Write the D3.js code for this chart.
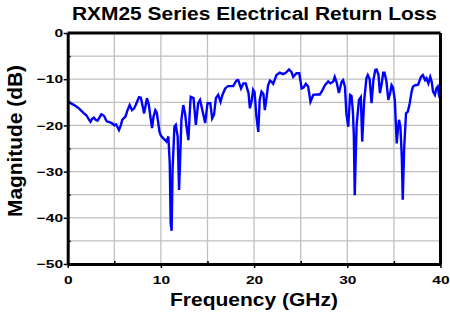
<!DOCTYPE html>
<html>
<head>
<meta charset="utf-8">
<script src="https://cdn.jsdelivr.net/npm/d3@7"></script>
<style>
  body { margin: 0; background: #fff; }
  text { font-family: "Liberation Sans", Arial, sans-serif; font-weight: bold; }
</style>
</head>
<body>
<div class="chart"></div>
<script>
// return loss data
const freqGHz = [
  0.0, 0.15, 0.4, 0.7, 1.0, 1.2, 1.5, 1.75, 2.0, 2.3, 2.45, 2.6, 2.8, 3.0, 3.2, 3.4, 3.6, 3.8, 3.95,
  4.1, 4.25, 4.5, 4.8, 5.0, 5.2, 5.35, 5.5, 5.7, 5.85, 6.0, 6.2, 6.4, 6.65, 6.9, 7.1, 7.3, 7.5, 7.65,
  7.85, 8.0, 8.2, 8.35, 8.5, 8.7, 8.9, 9.05, 9.2, 9.4, 9.55, 9.7, 9.85, 10.0, 10.25, 10.45, 10.6, 10.8,
  10.95, 11.05, 11.15, 11.25, 11.45, 11.6, 11.8, 11.95, 12.05, 12.2, 12.4, 12.6, 12.75, 12.95, 13.1,
  13.2, 13.5, 13.75, 14.0, 14.2, 14.45, 14.75, 15.0, 15.3, 15.5, 15.7, 15.9, 16.15, 16.4, 16.6, 16.9,
  17.2, 17.5, 17.75, 18.1, 18.3, 18.6, 18.85, 19.1, 19.4, 19.55, 19.75, 19.9, 20.05, 20.25, 20.45,
  20.6, 20.8, 21.0, 21.15, 21.35, 21.5, 21.7, 21.9, 22.05, 22.4, 22.75, 23.1, 23.4, 23.75, 24.0, 24.2,
  24.55, 24.85, 25.1, 25.3, 25.55, 25.8, 26.05, 26.35, 26.7, 27.05, 27.25, 27.6, 27.95, 28.2, 28.5,
  28.65, 28.85, 29.1, 29.4, 29.55, 29.75, 29.9, 30.1, 30.3, 30.45, 30.6, 30.7, 30.8, 30.9, 31.0, 31.25,
  31.45, 31.6, 31.8, 32.05, 32.2, 32.4, 32.6, 32.8, 33.0, 33.15, 33.35, 33.5, 33.7, 33.85, 34.0, 34.2,
  34.4, 34.6, 34.75, 34.9, 35.1, 35.3, 35.45, 35.55, 35.7, 35.85, 35.95, 36.1, 36.3, 36.5, 36.7, 36.9,
  37.05, 37.3, 37.6, 37.9, 38.1, 38.35, 38.5, 38.7, 38.9, 39.05, 39.2, 39.4, 39.55, 39.7, 39.85, 40.0
];
const lossDb = [
  -14.8, -14.9, -15.3, -15.6, -16.0, -16.3, -16.9, -17.4, -17.8, -18.8, -19.2, -18.6, -18.3, -18.8, -19.0, -18.3, -17.6, -17.8, -18.1,
  -18.8, -19.2, -19.3, -19.6, -20.0, -19.8, -20.4, -21.0, -20.0, -18.8, -18.5, -18.1, -16.8, -15.6, -16.7, -16.4, -15.6, -14.6, -13.9,
  -14.0, -15.5, -17.4, -15.8, -14.1, -15.5, -18.5, -20.6, -18.2, -16.7, -17.2, -19.2, -21.4, -22.2, -22.8, -23.2, -23.5, -22.4,
  -28.2, -41.2, -42.8, -29.7, -20.3, -19.9, -22.4, -34.0, -28.2, -18.8, -15.6, -17.5, -20.3, -23.2, -17.0,
  -13.8, -14.1, -19.9, -15.2, -14.5, -16.7, -19.5, -15.2, -15.2, -18.5, -17.7, -14.1, -13.4, -14.9, -13.4, -12.0,
  -11.5, -11.5, -11.5, -10.3, -10.2, -12.0, -10.9, -10.9, -13.0, -16.3, -14.5, -12.3, -12.8, -18.1, -21.4,
  -14.5, -12.7, -13.2, -16.7, -13.8, -11.3, -10.3, -10.6, -11.0, -9.1, -8.6, -8.9, -8.6, -7.9, -8.4, -9.5,
  -8.7, -8.7, -12.0, -11.8, -11.0, -11.6, -14.9, -13.4, -13.3, -13.3, -12.7, -11.3, -10.5, -10.9, -10.5,
  -9.5, -10.6, -13.0, -10.5, -10.2, -11.6, -17.4, -20.3, -13.4, -13.6, -17.0, -22.0, -35.1, -27.0, -20.0, -14.5,
  -13.9, -23.5, -14.9, -9.8, -9.1, -10.0, -15.2, -10.2, -8.0, -7.9, -9.1, -13.0, -10.9, -8.6, -8.6, -10.5,
  -14.5, -13.0, -11.3, -11.8, -14.5, -23.9, -20.5, -18.8, -20.3, -27.0, -36.1, -25.0, -17.4, -17.0, -15.2, -12.7,
  -11.6, -11.3, -11.2, -9.5, -9.1, -10.2, -9.8, -10.9, -9.5, -10.5, -12.7, -13.4, -12.0, -11.6, -13.5, -14.5
];
const xTicks = [0, 10, 20, 30, 40];
const xMinorTicks = [5, 15, 25, 35];
const yTicks = [0, -10, -20, -30, -40, -50];
const yMinorTicks = [-5, -15, -25, -35, -45];
const xGrid = [5, 10, 15, 20, 25, 30, 35];
const yGrid = [-5, -10, -15, -20, -25, -30, -35, -40, -45];

const titleText = 'RXM25 Series Electrical Return Loss';
const xLabel = 'Frequency (GHz)';
const yLabel = 'Magnitude (dB)';

const W = 450, H = 312;
const margin = { top: 33, right: 9.5, bottom: 48, left: 67.7 };
const width = W - margin.left - margin.right,
  height = H - margin.top - margin.bottom;

const x = d3.scaleLinear().domain([0, 40]).range([0, width]);
const y = d3.scaleLinear().domain([-50, 0]).range([height, 0]);

const svgRoot = d3.select('.chart').append('svg')
  .attr('width', W)
  .attr('height', H);

const svg = svgRoot.append('g')
  .attr('transform', `translate(${margin.left},${margin.top})`);

// grid lines
svg.append('g').selectAll('line').data(xGrid).join('line')
  .attr('x1', d => x(d)).attr('x2', d => x(d))
  .attr('y1', 0).attr('y2', height)
  .attr('stroke', '#bfbfbf').attr('stroke-width', 1.3);
svg.append('g').selectAll('line').data(yGrid).join('line')
  .attr('x1', 0).attr('x2', width)
  .attr('y1', d => y(d)).attr('y2', d => y(d))
  .attr('stroke', '#bfbfbf').attr('stroke-width', 1.3);

// the curve
const pts = freqGHz.map((f, i) => ({ f, db: lossDb[i] }));
const valueline = d3.line()
  .x(d => x(d.f))
  .y(d => y(d.db));
svg.append('path')
  .datum(pts)
  .attr('fill', 'none')
  .attr('stroke', '#0000ff')
  .attr('stroke-width', 2.4)
  .attr('d', valueline);

// minor ticks (inside)
svg.append('g')
  .attr('transform', `translate(0,${height})`)
  .call(d3.axisBottom(x).tickValues(xMinorTicks).tickSize(-3).tickFormat(''))
  .call(g => g.select('.domain').remove())
  .selectAll('line').attr('stroke', '#000').attr('stroke-width', 1.5);
svg.append('g')
  .call(d3.axisLeft(y).tickValues(yMinorTicks).tickSize(-3).tickFormat(''))
  .call(g => g.select('.domain').remove())
  .selectAll('line').attr('stroke', '#000').attr('stroke-width', 1.5);

// frame top / right
svg.append('line').attr('x1', 0).attr('x2', width).attr('y1', 0).attr('y2', 0)
  .attr('stroke', '#000').attr('stroke-width', 3);
svg.append('line').attr('x1', width).attr('x2', width).attr('y1', 0).attr('y2', height)
  .attr('stroke', '#000').attr('stroke-width', 3);

const sx = 1.35;

// X axis
const xAxis = svg.append('g')
  .attr('transform', `translate(0,${height})`)
  .call(d3.axisBottom(x).tickValues(xTicks).tickSize(4).tickSizeOuter(0).tickPadding(8));
xAxis.select('.domain').attr('stroke-width', 3);
xAxis.selectAll('line').attr('stroke-width', 1.5);
xAxis.selectAll('text')
  .attr('font-size', 11.5)
  .attr('fill', '#000')
  .attr('transform', `scale(${sx},1)`);

// Y axis
const yAxis = svg.append('g')
  .call(d3.axisLeft(y).tickValues(yTicks).tickSize(4).tickSizeOuter(0));
yAxis.select('.domain').attr('stroke-width', 3);
yAxis.selectAll('line').attr('stroke-width', 1.5);
yAxis.selectAll('text')
  .attr('font-size', 11.5)
  .attr('fill', '#000')
  .attr('x', -4.6 / sx)
  .attr('transform', `scale(${sx},1)`);

// title and labels
svgRoot.append('text')
  .attr('x', 254.5).attr('y', 20)
  .attr('text-anchor', 'middle')
  .attr('font-size', 17.5)
  .attr('textLength', 365)
  .attr('lengthAdjust', 'spacingAndGlyphs')
  .text(titleText);

svgRoot.append('text')
  .attr('x', 254).attr('y', 306)
  .attr('text-anchor', 'middle')
  .attr('font-size', 18.5)
  .attr('textLength', 168)
  .attr('lengthAdjust', 'spacingAndGlyphs')
  .text(xLabel);

svgRoot.append('text')
  .attr('transform', 'translate(22,141) rotate(-90)')
  .attr('text-anchor', 'middle')
  .attr('font-size', 21)
  .attr('textLength', 152)
  .attr('lengthAdjust', 'spacingAndGlyphs')
  .text(yLabel);
</script>
</body>
</html>
